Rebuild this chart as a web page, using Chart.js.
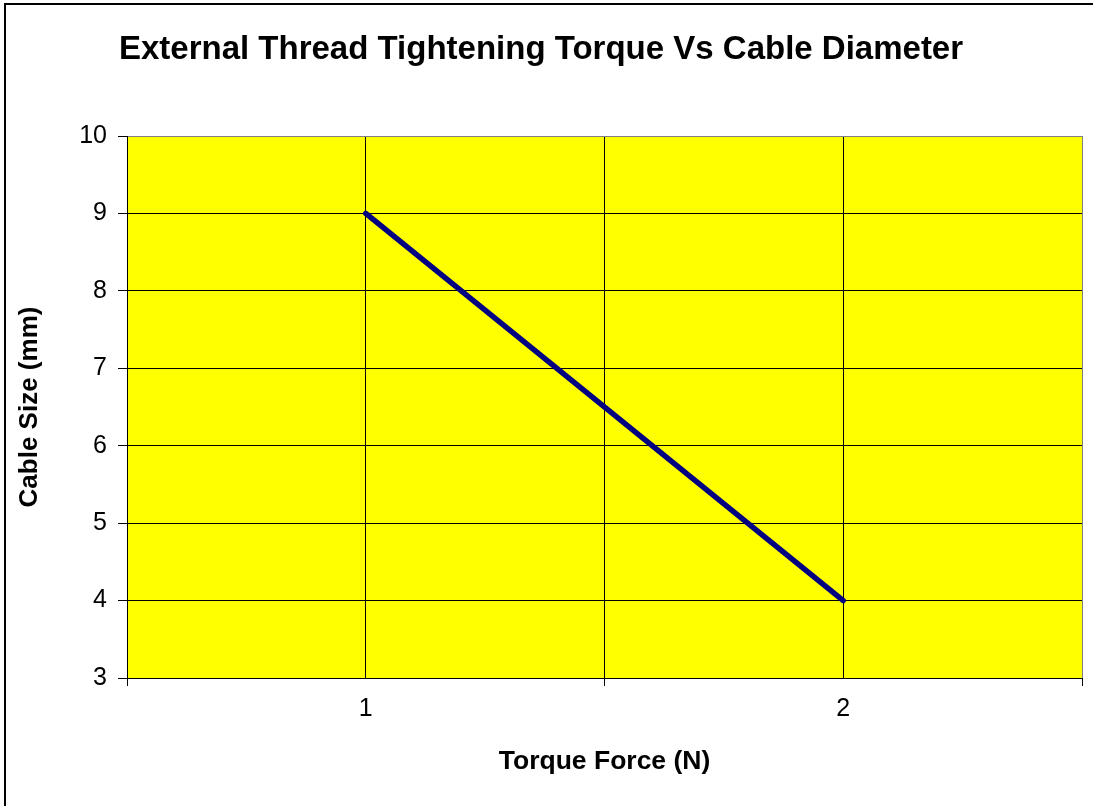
<!DOCTYPE html>
<html>
<head>
<meta charset="utf-8">
<title>External Thread Tightening Torque Vs Cable Diameter</title>
<script src="https://cdn.jsdelivr.net/npm/chart.js@4.4.1/dist/chart.umd.min.js"></script>
<style>
  html, body { margin: 0; padding: 0; background: #fff; }
  #wrap { width: 1093px; height: 806px; }
</style>
</head>
<body>
<div id="wrap"><canvas id="torqueChart" width="1093" height="806"></canvas></div>
<script>
// --- DATA ---
const torqueForce = [1, 2];          // x: Torque Force (N)
const cableSize = [9, 4];            // y: Cable Size (mm)
const xTickValues = [0.5, 1, 1.5, 2, 2.5];
const xTickLabels = ['', '1', '', '2', ''];
const yTickValues = [3, 4, 5, 6, 7, 8, 9, 10];

const FONT = "'Liberation Sans', Arial, sans-serif";

// yellow plot area + outer frame (only top/left edges visible in the picture)
const plotBackground = {
  id: 'plotBackground',
  beforeDraw(chart) {
    const { ctx, chartArea: a } = chart;
    ctx.save();
    ctx.fillStyle = '#ffffff';
    ctx.fillRect(0, 0, chart.width, chart.height);
    ctx.fillStyle = '#ffff00';
    ctx.fillRect(a.left, a.top, a.right - a.left, a.bottom - a.top);
    ctx.strokeStyle = '#000';
    ctx.lineWidth = 2;
    ctx.beginPath();
    ctx.moveTo(5, chart.height);
    ctx.lineTo(5, 4);
    ctx.lineTo(chart.width, 4);
    ctx.stroke();
    ctx.restore();
  }
};

new Chart(document.getElementById('torqueChart'), {
  type: 'line',
  data: {
    datasets: [{
      data: torqueForce.map((x, i) => ({ x: x, y: cableSize[i] })),
      borderColor: '#000080',
      borderWidth: 5.5,
      borderCapStyle: 'round',
      pointRadius: 0,
      fill: false,
      tension: 0
    }]
  },
  options: {
    responsive: false,
    animation: false,
    layout: { padding: { left: 0, right: 11, top: 0, bottom: 0 } },
    plugins: {
      legend: { display: false },
      tooltip: { enabled: false },
      title: {
        display: true,
        text: 'External Thread Tightening Torque Vs Cable Diameter',
        color: '#000',
        font: { family: FONT, size: 33, weight: 'bold' },
        padding: { top: 30.2, bottom: 66.2 }
      }
    },
    scales: {
      x: {
        type: 'linear',
        min: 0.5,
        max: 2.5,
        afterBuildTicks: s => { s.ticks = xTickValues.map(v => ({ value: v })); },
        afterFit: s => { s.height = 128; },
        ticks: {
          callback: (v, i) => xTickLabels[i],
          color: '#000',
          font: { family: FONT, size: 25 },
          padding: 8,
          maxRotation: 0,
          autoSkip: false
        },
        grid: {
          color: c => (c.tick && c.tick.value === 2.5) ? '#808080' : '#000',
          tickColor: c => (c.tick && Number.isInteger(c.tick.value)) ? 'rgba(0,0,0,0)' : '#000',
          tickLength: 8,
          lineWidth: 1
        },
        border: { color: '#000', width: 1 },
        title: {
          display: true,
          text: 'Torque Force (N)',
          color: '#000',
          font: { family: FONT, size: 26.5, weight: 'bold' },
          padding: { top: 0, bottom: 28 }
        }
      },
      y: {
        min: 3,
        max: 10,
        afterBuildTicks: s => { s.ticks = yTickValues.map(v => ({ value: v })); },
        afterFit: s => { s.width = 127; },
        ticks: {
          color: '#000',
          font: { family: FONT, size: 25 },
          padding: 11
        },
        grid: {
          color: c => (c.tick && c.tick.value === 10) ? '#808080' : '#000',
          tickColor: '#000',
          tickLength: 9,
          lineWidth: 1
        },
        border: { color: '#000', width: 1 },
        title: {
          display: true,
          text: 'Cable Size (mm)',
          color: '#000',
          font: { family: FONT, size: 26, weight: 'bold' },
          padding: { top: 14.4, bottom: 0 }
        }
      }
    }
  },
  plugins: [plotBackground]
});
</script>
</body>
</html>
